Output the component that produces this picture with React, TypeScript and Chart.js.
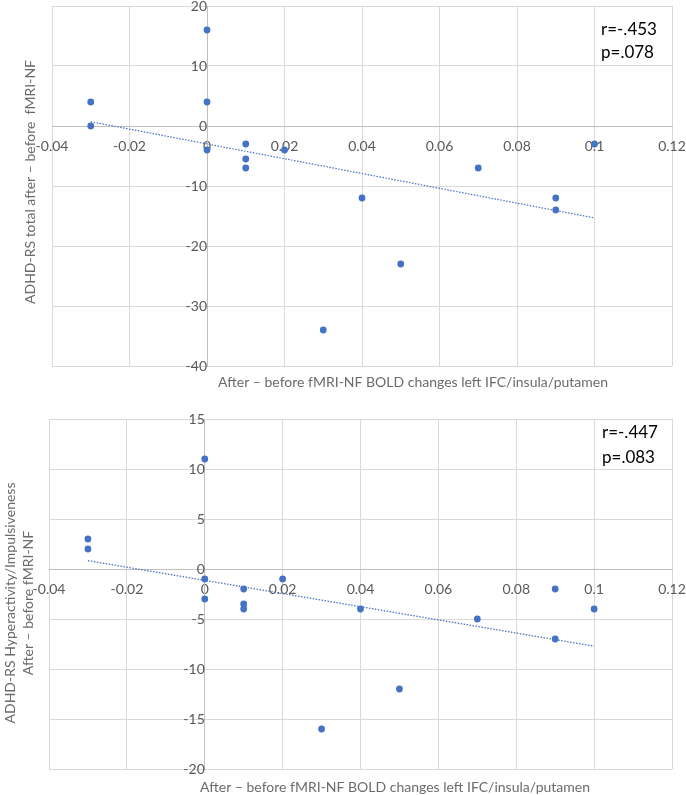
import React, { useEffect, useRef } from "react";
import { Chart, registerables } from "chart.js";

Chart.register(...registerables);

// ---- data ----
const xTickLabels = ["-0.04", "-0.02", "0", "0.02", "0.04", "0.06", "0.08", "0.1", "0.12"];
const topYTickLabels = ["-40", "-30", "-20", "-10", "0", "10", "20"];
const bottomYTickLabels = ["-20", "-15", "-10", "-5", "0", "5", "10", "15"];

const boldChange = [-0.03, -0.03, 0, 0, 0, 0.01, 0.01, 0.01, 0.02, 0.03, 0.04, 0.05, 0.07, 0.09, 0.09, 0.1];
const totalChange = [4, 0, 16, 4, -4, -3, -5.5, -7, -4, -34, -12, -23, -7, -12, -14, -3];
const hyperChange = [3, 2, 11, -1, -3, -2, -3.5, -4, -1, -16, -4, -12, -5, -2, -7, -4];

const xTitle = "After \u2013 before fMRI-NF BOLD changes left IFC/insula/putamen";
const topYTitle = ["ADHD-RS total after \u2013 before  fMRI-NF"];
const bottomYTitle = ["ADHD-RS Hyperactivity/Impulsiveness", "After \u2013 before fMRI-NF"];
const topStats = ["r=-.453", "p=.078"];
const bottomStats = ["r=-.447", "p=.083"];

// ---- helpers ----
const BLUE = "#4472C4";
const FONT = "Lato, 'Open Sans', sans-serif";

function linearFit(xs: number[], ys: number[]) {
  const n = xs.length;
  const mx = xs.reduce((a, b) => a + b, 0) / n;
  const my = ys.reduce((a, b) => a + b, 0) / n;
  let sxy = 0, sxx = 0;
  for (let i = 0; i < n; i++) {
    sxy += (xs[i] - mx) * (ys[i] - my);
    sxx += (xs[i] - mx) ** 2;
  }
  const slope = sxy / sxx;
  const icpt = my - slope * mx;
  const x0 = Math.min(...xs), x1 = Math.max(...xs);
  return [{ x: x0, y: icpt + slope * x0 }, { x: x1, y: icpt + slope * x1 }];
}

const textPlugin = {
  id: "textAnno",
  afterDraw(chart: any, _args: any, opts: any) {
    const ctx = chart.ctx;
    for (const t of opts.items || []) {
      ctx.save();
      ctx.font = t.font;
      ctx.fillStyle = t.color;
      ctx.textAlign = t.align || "center";
      ctx.textBaseline = "middle";
      ctx.translate(t.x, t.y);
      if (t.rotate) ctx.rotate(t.rotate);
      ctx.fillText(t.text, 0, 0);
      ctx.restore();
    }
  },
};

function noOverhang(scale: any) {
  scale.paddingTop = 0;
  scale.paddingBottom = 0;
  scale.paddingLeft = 0;
  scale.paddingRight = 0;
}

interface Cfg {
  ys: number[];
  yMin: number;
  yMax: number;
  yStep: number;
  yLabels: string[];
  padding: { left: number; top: number; right: number; bottom: number };
  texts: any[];
}

function makeChart(canvas: HTMLCanvasElement, cfg: Cfg) {
  const points = boldChange.map((x, i) => ({ x, y: cfg.ys[i] }));
  const trend = linearFit(boldChange, cfg.ys);
  return new Chart(canvas, {
    type: "scatter",
    data: {
      datasets: [
        {
          data: points,
          backgroundColor: BLUE,
          borderWidth: 0,
          pointRadius: 3.4,
        },
        {
          data: trend,
          showLine: true,
          borderColor: BLUE,
          borderWidth: 1.2,
          borderDash: [1.5, 1.5],
          pointRadius: 0,
          fill: false,
        },
      ],
    },
    options: {
      animation: false,
      responsive: false,
      maintainAspectRatio: false,
      devicePixelRatio: 1,
      layout: { padding: cfg.padding },
      plugins: {
        legend: { display: false },
        tooltip: { enabled: false },
        textAnno: { items: cfg.texts },
      } as any,
      scales: {
        x: {
          type: "linear",
          min: -0.04,
          max: 0.12,
          position: { y: 0 } as any,
          afterFit: noOverhang,
          ticks: {
            stepSize: 0.02,
            padding: 12,
            color: "#595959",
            font: { family: FONT, size: 14 },
            maxRotation: 0,
            autoSkip: false,
            callback: (_v: any, i: number) => xTickLabels[i],
          },
          grid: { color: "#d9d9d9", lineWidth: 1, drawTicks: false },
          border: { color: "#bfbfbf", width: 1 },
        },
        y: {
          type: "linear",
          min: cfg.yMin,
          max: cfg.yMax,
          position: { x: 0 } as any,
          afterFit: noOverhang,
          ticks: {
            stepSize: cfg.yStep,
            padding: 14,
            color: "#595959",
            font: { family: FONT, size: 14 },
            autoSkip: false,
            callback: (_v: any, i: number) => cfg.yLabels[i],
          },
          grid: { color: "#d9d9d9", lineWidth: 1, drawTicks: false },
          border: { color: "#bfbfbf", width: 1 },
        },
      },
    },
    plugins: [textPlugin as any],
  });
}

export default function App() {
  const topRef = useRef<HTMLCanvasElement>(null);
  const botRef = useRef<HTMLCanvasElement>(null);

  useEffect(() => {
    const titleFont = `14px ${FONT}`;
    const statFont = `17px ${FONT}`;
    const titleColor = "#6b6b6b";
    const c1 = makeChart(topRef.current!, {
      ys: totalChange,
      yMin: -40,
      yMax: 20,
      yStep: 10,
      yLabels: topYTickLabels,
      padding: { left: 52, top: 6, right: 14, bottom: 34 },
      texts: [
        { text: xTitle, x: 413, y: 382, font: titleFont, color: titleColor },
        { text: topYTitle[0], x: 30, y: 182, font: titleFont, color: titleColor, rotate: -Math.PI / 2 },
        { text: topStats[0], x: 601, y: 30, font: statFont, color: "#000", align: "left" },
        { text: topStats[1], x: 601, y: 53, font: statFont, color: "#000", align: "left" },
      ],
    });
    const c2 = makeChart(botRef.current!, {
      ys: hyperChange,
      yMin: -20,
      yMax: 15,
      yStep: 5,
      yLabels: bottomYTickLabels,
      padding: { left: 49, top: 19, right: 14, bottom: 26 },
      texts: [
        { text: xTitle, x: 395, y: 387, font: titleFont, color: titleColor },
        { text: bottomYTitle[0], x: 10, y: 203, font: titleFont, color: titleColor, rotate: -Math.PI / 2 },
        { text: bottomYTitle[1], x: 28, y: 203, font: titleFont, color: titleColor, rotate: -Math.PI / 2 },
        { text: bottomStats[0], x: 602, y: 33, font: statFont, color: "#000", align: "left" },
        { text: bottomStats[1], x: 602, y: 58, font: statFont, color: "#000", align: "left" },
      ],
    });
    return () => {
      c1.destroy();
      c2.destroy();
    };
  }, []);

  return (
    <div style={{ position: "absolute", left: 0, top: 0, width: 686, height: 795, background: "#fff" }}>
      <canvas ref={topRef} width={686} height={400} style={{ position: "absolute", left: 0, top: 0, display: "block" }} />
      <canvas ref={botRef} width={686} height={395} style={{ position: "absolute", left: 0, top: 400, display: "block" }} />
    </div>
  );
}
